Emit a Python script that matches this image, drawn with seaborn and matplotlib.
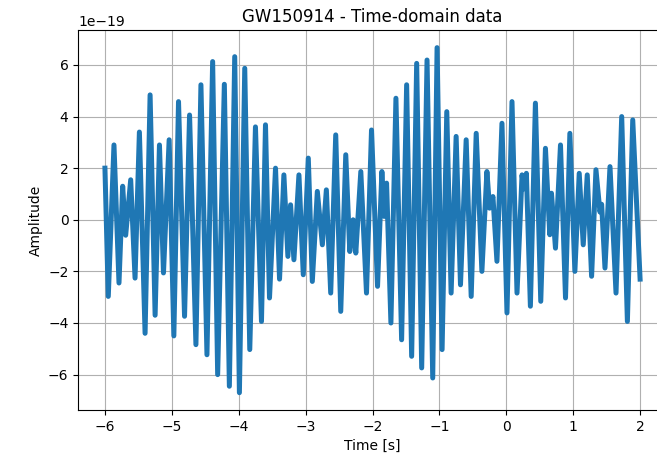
import numpy as np
import matplotlib
matplotlib.use("Agg")
import matplotlib.pyplot as plt
import seaborn as sns

# extrema of the strain signal (time in s, amplitude in 1e-19)
time = [
    -6.0, -5.95, -5.865, -5.79, -5.735, -5.69, -5.615, -5.55, -5.485, -5.40,
    -5.325, -5.25, -5.185, -5.125, -5.04, -4.97, -4.90, -4.81, -4.735,
    -4.64, -4.565, -4.475, -4.39, -4.315, -4.215, -4.14, -4.06, -3.99, -3.91,
    -3.835, -3.75, -3.66, -3.60, -3.54, -3.45, -3.39,
    -3.325, -3.265, -3.225, -3.175, -3.10, -3.035, -2.96, -2.90, -2.825, -2.75,
    -2.69, -2.625, -2.55, -2.475, -2.40, -2.34, -2.29, -2.25, -2.175, -2.09,
    -2.015, -1.925, -1.86, -1.825, -1.79, -1.725, -1.65, -1.565, -1.49, -1.415,
    -1.34, -1.265, -1.185, -1.10, -1.035, -0.96, -0.89, -0.825, -0.75,
    -0.685, -0.60, -0.525, -0.45, -0.365, -0.29, -0.25, -0.20, -0.14, -0.065,
    0.01, 0.085, 0.16, 0.235, 0.265, 0.30, 0.36, 0.435, 0.515, 0.585, 0.65,
    0.675, 0.735, 0.81, 0.885, 0.95, 1.025, 1.09, 1.15, 1.21, 1.275, 1.34,
    1.40, 1.425, 1.475, 1.55, 1.64, 1.725, 1.81, 1.89, 2.0,
]
amplitude = [
    2.0, -2.97, 2.9, -2.45, 1.3, -0.6, 1.55, -2.26, 3.4, -4.4,
    4.84, -3.7, 2.9, -2.06, 3.1, -4.5, 4.58, -3.74, 4.06,
    -4.84, 5.23, -5.23, 6.13, -6.0, 5.25, -6.45, 6.32, -6.7, 5.87,
    -5.03, 3.6, -3.94, 3.68, -3.03, 2.0, -2.3,
    1.74, -1.42, 0.58, -1.55, 1.74, -2.13, 2.39, -2.39, 1.1, -0.97,
    1.16, -2.84, 3.29, -3.55, 2.52, -1.23, 0.0, -1.29, 1.87, -2.84,
    3.48, -2.58, 1.87, 0.13, 1.42, -4.0, 4.71, -4.65, 5.23, -5.29,
    6.06, -5.74, 6.19, -6.13, 6.67, -5.03, 4.19, -2.84, 3.23,
    -2.52, 3.1, -2.97, 3.35, -2.0, 1.87, 0.45, 0.9, -1.61, 3.74,
    -3.61, 4.58, -2.84, 1.74, 1.2, 1.8, -3.35, 4.52, -3.16, 2.77, -0.58,
    1.03, -1.1, 2.9, -3.03, 3.35, -2.0, 1.8, -0.97, 1.74, -2.19, 1.94,
    0.3, 0.6, -1.87, 2.06, -2.84, 4.0, -3.94, 3.87, -2.3,
]

t = np.array(time)
h = np.array(amplitude) * 1e-19

fig = plt.figure(figsize=(6.57, 4.75), dpi=100)
# axes run a little past the right edge, like the cropped original
ax = fig.add_axes([0.119, 0.137, 0.896, 0.799])

sns.lineplot(x=t, y=h, ax=ax, sort=False, color="#1f77b4", linewidth=3.6)

ax.grid(True)
ax.set_title("GW150914 - Time-domain data", fontsize=12)
ax.set_xlabel("Time [s]")
ax.set_ylabel("Amplitude")

fig.savefig("out.png", dpi=100)
